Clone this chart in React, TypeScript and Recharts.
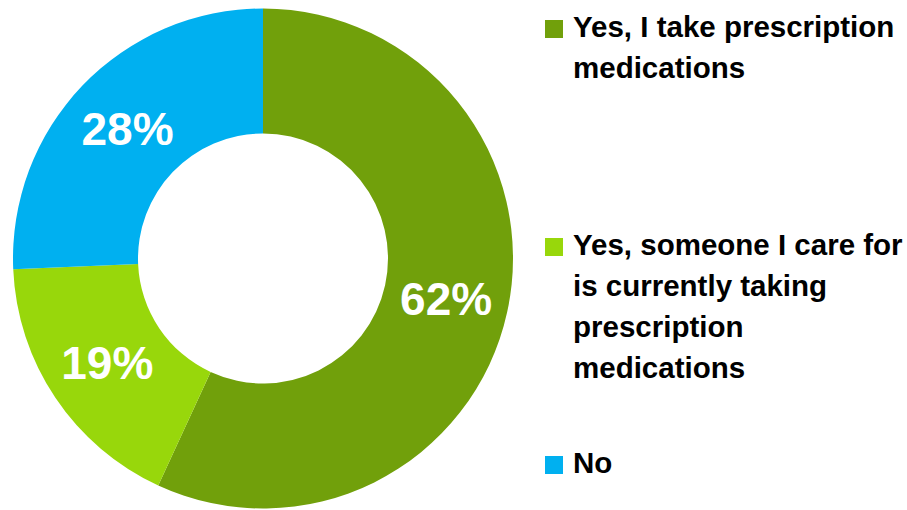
import React from 'react';
import { PieChart, Pie, Cell, Legend } from 'recharts';

const answers = [
  'Yes, I take prescription medications',
  'Yes, someone I care for is currently taking prescription medications',
  'No',
];
const shares = [62, 19, 28];
const sliceColors = ['#71A00B', '#98D70B', '#00B0F0'];

const chartData = answers.map((name, i) => ({ name, value: shares[i] }));

const RADIAN = Math.PI / 180;

const renderLabel = (props: any) => {
  const { cx, cy, midAngle, innerRadius, outerRadius, value } = props;
  const r = (innerRadius + outerRadius) / 2;
  const x = cx + r * Math.cos(-midAngle * RADIAN);
  const y = cy + r * Math.sin(-midAngle * RADIAN);
  return (
    <text
      x={x}
      y={y}
      fill="#ffffff"
      textAnchor="middle"
      dominantBaseline="central"
      style={{ fontFamily: '"Liberation Sans", Arial, sans-serif', fontWeight: 700, fontSize: 46 }}
    >
      {`${value}%`}
    </text>
  );
};

const LegendList = ({ payload }: any) => {
  // keep the legend in data order, not alphabetical
  const items = [...(payload || [])].sort(
    (a: any, b: any) => answers.indexOf(a.value) - answers.indexOf(b.value)
  );
  return (
    <div style={{ fontFamily: '"Liberation Sans", Arial, sans-serif' }}>
      {items.map((entry: any) => (
        <div key={entry.value} style={{ height: 218, display: 'flex', alignItems: 'flex-start' }}>
          <div
            style={{
              width: 18,
              height: 18,
              marginTop: 14,
              marginRight: 10,
              background: entry.color,
              flexShrink: 0,
            }}
          />
          <div style={{ width: 340, fontSize: 29.5, fontWeight: 700, lineHeight: '41px', color: '#000' }}>
            {entry.value}
          </div>
        </div>
      ))}
    </div>
  );
};

export default function App() {
  return (
    <div
      style={{
        position: 'absolute',
        left: 0,
        top: 0,
        width: 907,
        height: 510,
        overflow: 'hidden',
        background: '#ffffff',
      }}
    >
      <PieChart width={907} height={510} margin={{ top: 0, right: 0, bottom: 0, left: 0 }}>
        <Pie
          data={chartData}
          dataKey="value"
          nameKey="name"
          cx={263}
          cy={258.5}
          innerRadius={125}
          outerRadius={250}
          startAngle={90}
          endAngle={-270}
          stroke="none"
          label={renderLabel}
          labelLine={false}
          isAnimationActive={false}
        >
          {chartData.map((d, i) => (
            <Cell key={d.name} fill={sliceColors[i]} />
          ))}
        </Pie>
        <Legend
          layout="vertical"
          align="right"
          verticalAlign="top"
          content={<LegendList />}
          wrapperStyle={{ left: 545, top: 6, width: 362 }}
        />
      </PieChart>
    </div>
  );
}
